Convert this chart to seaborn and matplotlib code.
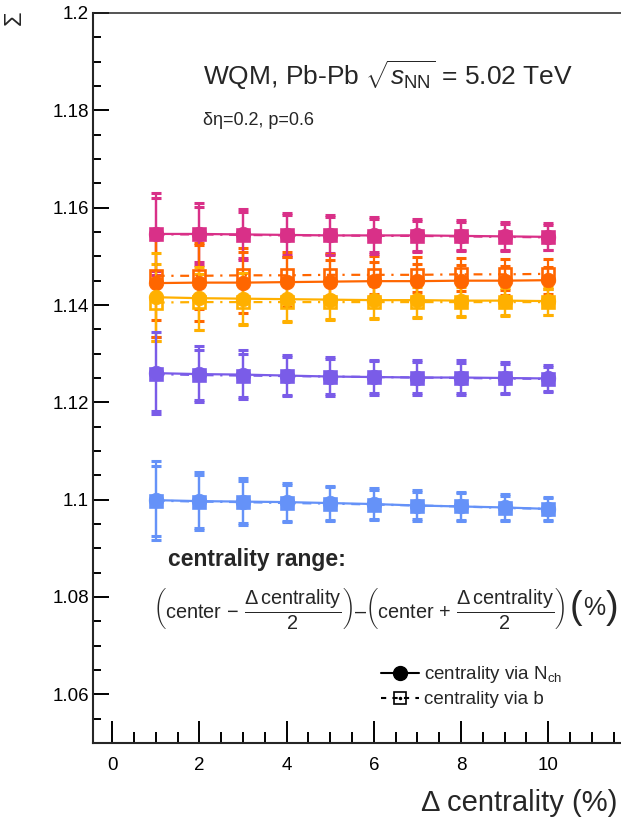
import numpy as np
import pandas as pd
import matplotlib
matplotlib.use("Agg")
import matplotlib.pyplot as plt
from matplotlib.lines import Line2D
from matplotlib.ticker import MultipleLocator, FuncFormatter
import seaborn as sns

sns.set_style('ticks')
plt.rcParams['font.family'] = ['Liberation Sans', 'DejaVu Sans']
plt.rcParams['mathtext.fontset'] = 'custom'
plt.rcParams['mathtext.rm'] = 'Liberation Sans'
plt.rcParams['mathtext.it'] = 'Liberation Sans:italic'
plt.rcParams['mathtext.bf'] = 'Liberation Sans:bold'
plt.rcParams['mathtext.sf'] = 'Liberation Sans'

# ── data ────────────────────────────────────────────────────────────
delta_cent = [1, 2, 3, 4, 5, 6, 7, 8, 9, 10]

sig_nch_mag = [1.1546, 1.1546, 1.1545, 1.1544, 1.1543, 1.1543, 1.1543, 1.1542, 1.1541, 1.1540]
err_nch_mag = [0.0085, 0.0063, 0.0052, 0.0046, 0.0041, 0.0038, 0.0034, 0.0032, 0.0030, 0.0028]
sig_b_mag = [1.1545, 1.1545, 1.1544, 1.1543, 1.1543, 1.1542, 1.1542, 1.1541, 1.1540, 1.1539]
err_b_mag = [0.0075, 0.0057, 0.0047, 0.0041, 0.0037, 0.0034, 0.0031, 0.0029, 0.0027, 0.0025]

sig_nch_org = [1.1445, 1.1446, 1.1446, 1.1447, 1.1448, 1.1449, 1.1449, 1.1450, 1.1450, 1.1451]
err_nch_org = [0.0110, 0.0078, 0.0062, 0.0052, 0.0045, 0.0040, 0.0036, 0.0033, 0.0030, 0.0028]
sig_b_org = [1.1460, 1.1460, 1.1461, 1.1461, 1.1462, 1.1462, 1.1462, 1.1463, 1.1463, 1.1464]
err_b_org = [0.0090, 0.0068, 0.0056, 0.0048, 0.0043, 0.0039, 0.0036, 0.0034, 0.0032, 0.0031]

sig_nch_yel = [1.1416, 1.1414, 1.1413, 1.1412, 1.1411, 1.1410, 1.1410, 1.1409, 1.1409, 1.1408]
err_nch_yel = [0.0090, 0.0065, 0.0052, 0.0044, 0.0039, 0.0036, 0.0034, 0.0032, 0.0030, 0.0028]
sig_b_yel = [1.1405, 1.1406, 1.1406, 1.1406, 1.1406, 1.1406, 1.1406, 1.1406, 1.1406, 1.1406]
err_b_yel = [0.0080, 0.0058, 0.0047, 0.0040, 0.0036, 0.0034, 0.0032, 0.0030, 0.0029, 0.0027]

sig_nch_pur = [1.1260, 1.1258, 1.1257, 1.1255, 1.1253, 1.1252, 1.1251, 1.1251, 1.1250, 1.1249]
err_nch_pur = [0.0085, 0.0058, 0.0050, 0.0043, 0.0040, 0.0036, 0.0036, 0.0035, 0.0032, 0.0028]
sig_b_pur = [1.1258, 1.1256, 1.1255, 1.1254, 1.1253, 1.1252, 1.1251, 1.1250, 1.1249, 1.1248]
err_b_pur = [0.0076, 0.0052, 0.0045, 0.0039, 0.0036, 0.0032, 0.0032, 0.0031, 0.0029, 0.0025]

sig_nch_blu = [1.0999, 1.0997, 1.0996, 1.0995, 1.0993, 1.0991, 1.0988, 1.0986, 1.0984, 1.0981]
err_nch_blu = [0.0081, 0.0060, 0.0048, 0.0040, 0.0036, 0.0033, 0.0031, 0.0030, 0.0027, 0.0025]
sig_b_blu = [1.0998, 1.0996, 1.0995, 1.0993, 1.0992, 1.0990, 1.0988, 1.0986, 1.0983, 1.0981]
err_b_blu = [0.0072, 0.0054, 0.0043, 0.0037, 0.0033, 0.0030, 0.0028, 0.0027, 0.0025, 0.0023]

series_order = ['mag', 'org', 'yel', 'pur', 'blu']
palette = {'mag': '#d93088', 'org': '#ff6600', 'yel': '#ffb000',
           'pur': '#7a5ce8', 'blu': '#6592f8'}

ytick_vals = [1.06, 1.08, 1.1, 1.12, 1.14, 1.16, 1.18, 1.2]
xtick_vals = [0, 2, 4, 6, 8, 10]

# long table for seaborn
tables = {
    'mag': (sig_nch_mag, err_nch_mag, sig_b_mag, err_b_mag),
    'org': (sig_nch_org, err_nch_org, sig_b_org, err_b_org),
    'yel': (sig_nch_yel, err_nch_yel, sig_b_yel, err_b_yel),
    'pur': (sig_nch_pur, err_nch_pur, sig_b_pur, err_b_pur),
    'blu': (sig_nch_blu, err_nch_blu, sig_b_blu, err_b_blu),
}
frames = []
for name, (snch, ench, sb, eb) in tables.items():
    frames.append(pd.DataFrame({'dcent': delta_cent, 'sigma': snch, 'err': ench,
                                'series': name, 'method': 'Nch'}))
    frames.append(pd.DataFrame({'dcent': delta_cent, 'sigma': sb, 'err': eb,
                                'series': name, 'method': 'b'}))
df = pd.concat(frames, ignore_index=True)

# ── figure ──────────────────────────────────────────────────────────
W, H = 621, 821
fig = plt.figure(figsize=(W / 100, H / 100), dpi=100)
ax = fig.add_axes([93 / W, 1 - 743 / H, (621 - 93) / W, (743 - 13) / H])

styles = {
    'Nch': dict(linestyle='-', marker='o', markersize=10.5),
    'b': dict(linestyle=(0, (4, 3, 1, 3)), marker='s', markersize=9),
}
for method in ['b', 'Nch']:
    sub = df[df['method'] == method]
    for name in series_order:
        s = sub[sub['series'] == name]
        ax.errorbar(s['dcent'], s['sigma'], yerr=s['err'], fmt='none',
                    ecolor=palette[name], elinewidth=1.6, capsize=3.6,
                    capthick=2.2, zorder=2)
    n0 = len(ax.lines)
    sns.lineplot(data=sub, x='dcent', y='sigma', hue='series', hue_order=series_order,
                 palette=palette, estimator=None, sort=False, legend=False, ax=ax,
                 lw=1.6, zorder=3, **styles[method])
    for ln in ax.lines[n0:]:
        c = ln.get_color()
        ln.set_markeredgecolor(c)
        if method == 'b':
            ln.set_markerfacecolor('none')
            ln.set_markeredgewidth(1.9)
        else:
            ln.set_markerfacecolor(c)
            ln.set_markeredgewidth(0.5)

ax.set_xlim(-0.44, 11.67)
ax.set_ylim(1.05, 1.2)
ax.set_xticks(xtick_vals)
ax.set_yticks(ytick_vals)
ax.xaxis.set_minor_locator(MultipleLocator(0.5))
ax.yaxis.set_minor_locator(MultipleLocator(0.005))
fmt = FuncFormatter(lambda v, _: f'{v:g}')
ax.xaxis.set_major_formatter(fmt)
ax.yaxis.set_major_formatter(fmt)
ax.set_xlabel('')
ax.set_ylabel('')

for sp in ['left', 'bottom']:
    ax.spines[sp].set_linewidth(1.5)
ax.spines['top'].set_linewidth(1.1)
ax.spines['right'].set_visible(False)

ax.tick_params(axis='both', which='both', direction='in', width=1.4, colors='black')
ax.tick_params(axis='x', which='major', length=16, pad=10, labelsize=13.5)
ax.tick_params(axis='x', which='minor', length=8)
ax.tick_params(axis='y', which='major', length=11.5, pad=3, labelsize=13.5)
ax.tick_params(axis='y', which='minor', length=5.8)

# ── texts ───────────────────────────────────────────────────────────
fig.text(15 / W, 1 - 18 / H, 'Σ', rotation=90, fontsize=17, ha='center', va='center')
fig.text(617 / W, 1 - 803 / H, 'Δ centrality (%)', fontsize=21, ha='right', va='center')

fig.text(203 / W, 1 - 85 / H, r'WQM, Pb-Pb $\sqrt{s_{\mathrm{NN}}}$ = 5.02 TeV',
         fontsize=19, va='baseline')
fig.text(203 / W, 1 - 125 / H, 'δη=0.2, p=0.6', fontsize=13, va='baseline')

fig.text(168 / W, 1 - 566 / H, 'centrality range:', fontsize=16.5,
         fontweight='bold', va='baseline')
formula = (r'$\left(\mathrm{center}\,-\,\dfrac{\Delta\,\mathrm{centrality}}{2}\right)$'
           r'–'
           r'$\left(\mathrm{center}\,+\,\dfrac{\Delta\,\mathrm{centrality}}{2}\right)$')
fig.text(153 / W, 1 - 608 / H, formula, fontsize=14.3, va='center')
# big "(%)" after the formula
fig.text(576 / W, 1 - 608 / H, '(', fontsize=27, ha='center', va='center')
fig.text(594 / W, 1 - 608 / H, '%', fontsize=18, ha='center', va='center')
fig.text(612 / W, 1 - 608 / H, ')', fontsize=27, ha='center', va='center')

# legend
h_nch = Line2D([], [], color='k', lw=1.5, marker='o', ms=10)
h_b = (Line2D([], [], color='k', lw=1.5, ls=(0, (2.5, 3)), marker='s', ms=9,
              mfc='none', mew=1.2),
       Line2D([], [], ls='none', marker='.', ms=3, color='k'))
ax.legend([h_nch, h_b], [r'centrality via N$_{\mathrm{ch}}$', 'centrality via b'],
          loc='upper left', bbox_to_anchor=(372 / W, 1 - 655 / H),
          bbox_transform=fig.transFigure, frameon=False, fontsize=13.5,
          handlelength=2.0, handletextpad=0.3, labelspacing=0.3, borderpad=0)

fig.savefig('out.png', dpi=100)
